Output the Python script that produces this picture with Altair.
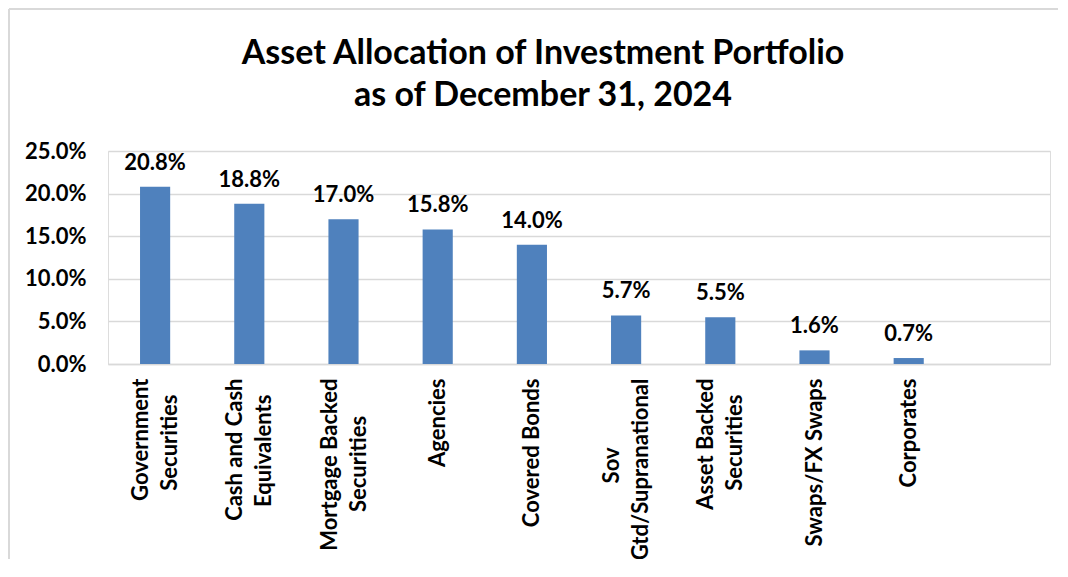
import altair as alt
import pandas as pd

categories = [
    "Government|Securities",
    "Cash and Cash|Equivalents",
    "Mortgage Backed|Securities",
    "Agencies",
    "Covered Bonds",
    "Sov|Gtd/Supranational",
    "Asset Backed|Securities",
    "Swaps/FX Swaps",
    "Corporates",
]
values = [0.208, 0.188, 0.170, 0.158, 0.140, 0.057, 0.055, 0.016, 0.007]
y_ticks = [0.0, 0.05, 0.10, 0.15, 0.20, 0.25]
title_lines = ["Asset Allocation of Investment Portfolio", "as of December 31, 2024"]

FONT = "Lato"
GRID = "#d9d9d9"
BAR = "#4f81bd"
FS = 22

# presentation only: trailing no-break spaces (closed by a zero-width space so
# they are not trimmed) centre the shorter line of a two-line label on the
# longer one; the labels hang from the axis
PAD_CHAR = "\u00a0"
END_CHAR = "\u200b"
short_line_pad = {
    "Government|Securities": (1, 3),
    "Cash and Cash|Equivalents": (1, 3),
    "Mortgage Backed|Securities": (1, 7),
    "Sov|Gtd/Supranational": (0, 13),
    "Asset Backed|Securities": (1, 3),
}


def display_label(cat):
    parts = cat.split("|")
    if cat in short_line_pad:
        i, n = short_line_pad[cat]
        parts[i] = parts[i] + PAD_CHAR * n + END_CHAR
    return parts


df = pd.DataFrame({"category": categories, "value": values})
domain = categories + [" "]

lookup = "{" + ", ".join(
    "'" + c + "': [" + ", ".join("'" + p + "'" for p in display_label(c)) + "]" for c in categories
) + "}"

x_enc = alt.X(
    "category:N",
    sort=domain,
    scale=alt.Scale(domain=domain, paddingInner=0.68, paddingOuter=0.34),
    axis=alt.Axis(
        title=None,
        labelAngle=-90,
        labelAlign="right",
        labelBaseline="middle",
        labelExpr="datum.value == ' ' ? '' : " + lookup + "[datum.value]",
        labelOffset=alt.condition("indexof(datum.value, '|') >= 0", alt.value(-14), alt.value(0)),
        labelFont=FONT,
        labelFontSize=FS,
        labelFontWeight="bold",
        labelColor="black",
        labelLineHeight=29,
        labelPadding=14,
        labelLimit=400,
        ticks=False,
        grid=False,
        domainColor=GRID,
        domainWidth=1.5,
    ),
)
y_enc = alt.Y(
    "value:Q",
    scale=alt.Scale(domain=[0, 0.25], nice=False),
    axis=alt.Axis(
        title=None,
        values=y_ticks,
        format=".1%",
        labelFont=FONT,
        labelFontSize=FS,
        labelFontWeight="bold",
        labelColor="black",
        labelPadding=22,
        ticks=False,
        domain=False,
        grid=True,
        gridColor=GRID,
        gridWidth=1.5,
    ),
)

base = alt.Chart(df).encode(x=x_enc, y=y_enc)
bars = base.mark_bar(color=BAR)
labels = base.mark_text(
    dy=-17, baseline="alphabetic", font=FONT, fontWeight="bold", fontSize=FS, color="black"
).encode(text=alt.Text("value:Q", format=".1%"))

frame_df = pd.DataFrame({"k": [0]})
left_border = alt.Chart(frame_df).mark_rule(color=GRID, strokeWidth=2).encode(
    x=alt.value(-99), y=alt.value(-142), y2=alt.value(420)
)
top_border = alt.Chart(frame_df).mark_rule(color=GRID, strokeWidth=2).encode(
    x=alt.value(-99), x2=alt.value(960), y=alt.value(-142)
)

chart = (
    alt.layer(left_border, top_border, bars, labels)
    .properties(
        width=942,
        height=213,
        autosize=alt.AutoSizeParams(type="none"),
        padding={"left": 100, "top": 143, "right": 8, "bottom": 195},
        title=alt.TitleParams(
            text=title_lines,
            font=FONT,
            fontSize=34,
            fontWeight="bold",
            color="black",
            anchor="middle",
            frame="group",
            baseline="alphabetic",
            dx=-36,
            offset=-132,
            lineHeight=42,
        ),
    )
    .configure_view(strokeWidth=0)
    .configure(background="white")
)

chart.save("out.html", embed_options={"renderer": "svg", "actions": False})
